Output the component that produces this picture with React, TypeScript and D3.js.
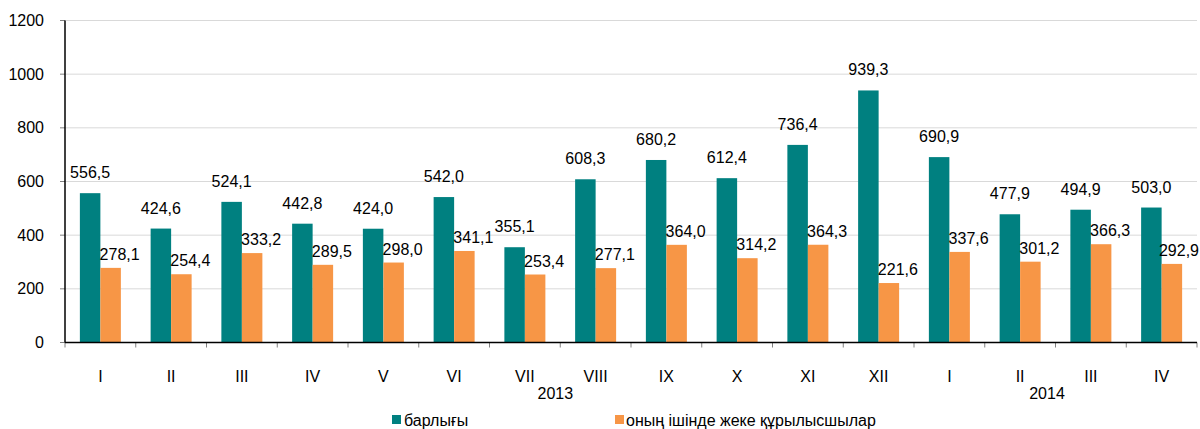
import React from "react";
import * as d3 from "d3";

const categories = ["I", "II", "III", "IV", "V", "VI", "VII", "VIII", "IX", "X", "XI", "XII", "I", "II", "III", "IV"];
const totalValues = [556.5, 424.6, 524.1, 442.8, 424.0, 542.0, 355.1, 608.3, 680.2, 612.4, 736.4, 939.3, 690.9, 477.9, 494.9, 503.0];
const privateValues = [278.1, 254.4, 333.2, 289.5, 298.0, 341.1, 253.4, 277.1, 364.0, 314.2, 364.3, 221.6, 337.6, 301.2, 366.3, 292.9];
const yTicks = [0, 200, 400, 600, 800, 1000, 1200];
const years = [{ label: "2013", pos: 6.93 }, { label: "2014", pos: 13.88 }];
const seriesNames = ["барлығы", "оның ішінде жеке құрылысшылар"];
const colors = ["#008080", "#F79646"];

const W = 1200, H = 429;
const left = 65, right = 1197, top = 20.5, bottom = 342.5;
const FONT = "'Liberation Sans', Arial, sans-serif";
const FS = 16;

export default function App() {
  const idx = categories.map((_, i) => String(i));
  const x = d3.scaleBand<string>().domain(idx).range([left, right]).padding(0);
  const y = d3.scaleLinear().domain([0, 1200]).range([bottom, top]);
  const bw = x.bandwidth();
  const barW = 20.5;
  const fmt = (v: number) => v.toFixed(1).replace(".", ",");
  const boundaries = d3.range(categories.length + 1).map((i) => left + i * bw);

  return (
    <svg width={W} height={H} style={{ position: "absolute", left: 0, top: 0 }} fontFamily={FONT}>
      <rect width={W} height={H} fill="#fff" />
      {yTicks.filter((t) => t > 0).map((t) => (
        <line key={t} x1={left} x2={right} y1={y(t)} y2={y(t)} stroke="#d9d9d9" strokeWidth={1} />
      ))}
      {yTicks.map((t) => (
        <g key={"yt" + t}>
          <line x1={left - 5} x2={left} y1={y(t)} y2={y(t)} stroke="#808080" />
          <text x={left - 21} y={y(t)} dy="0.35em" textAnchor="end" fontSize={FS} fill="#000">{t}</text>
        </g>
      ))}
      {categories.map((c, i) => {
        const x0 = (x(String(i)) as number) + (bw - 2 * barW) / 2;
        const oc = Math.min(x0 + barW * 1.5 + 9, W - 21);
        return (
          <g key={"c" + i}>
            <rect x={x0} y={y(totalValues[i])} width={barW} height={y(0) - y(totalValues[i])} fill={colors[0]} />
            <rect x={x0 + barW} y={y(privateValues[i])} width={barW} height={y(0) - y(privateValues[i])} fill={colors[1]} />
            <text x={x0 + barW / 2} y={y(totalValues[i]) - 15} textAnchor="middle" fontSize={FS} fill="#000">{fmt(totalValues[i])}</text>
            <text x={oc} y={y(privateValues[i]) - 8} textAnchor="middle" fontSize={FS} fill="#000">{fmt(privateValues[i])}</text>
            <text x={(x(String(i)) as number) + bw / 2} y={382} textAnchor="middle" fontSize={FS} fill="#000">{c}</text>
          </g>
        );
      })}
      {boundaries.map((b, i) => (
        <line key={"xt" + i} x1={b} x2={b} y1={bottom} y2={bottom + 5} stroke="#808080" />
      ))}
      <line x1={left} x2={right} y1={bottom} y2={bottom} stroke="#000" strokeWidth={1.5} />
      <line x1={left} x2={left} y1={top} y2={bottom} stroke="#000" strokeWidth={1.5} />
      {years.map((yr) => (
        <text key={yr.label} x={left + yr.pos * bw} y={399} textAnchor="middle" fontSize={FS} fill="#000">{yr.label}</text>
      ))}
      <g>
        <rect x={392} y={415} width={9} height={9} fill={colors[0]} />
        <text x={404} y={426} fontSize={FS} fill="#000">{seriesNames[0]}</text>
        <rect x={615} y={415} width={9} height={9} fill={colors[1]} />
        <text x={626} y={426} fontSize={FS} fill="#000">{seriesNames[1]}</text>
      </g>
    </svg>
  );
}
